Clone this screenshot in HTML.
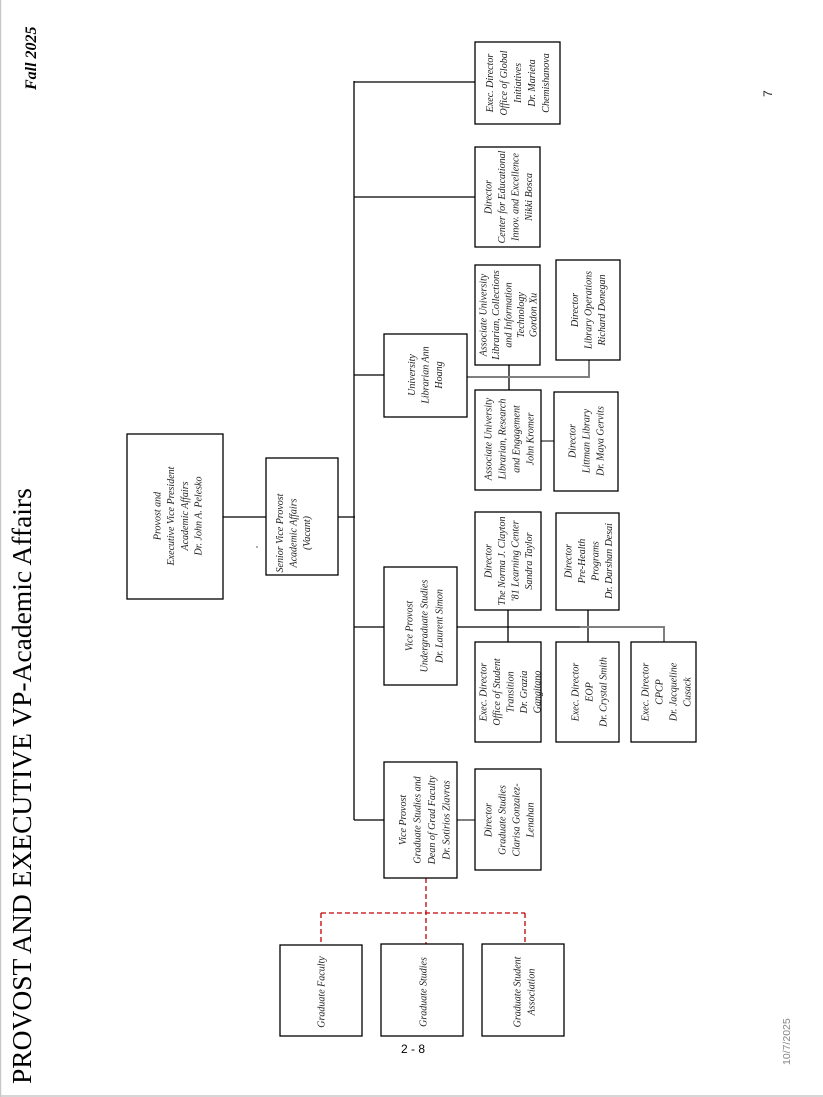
<!DOCTYPE html>
<html>
<head>
<meta charset="utf-8">
<style>
html,body{margin:0;padding:0;background:#fff;}
body{width:823px;height:1097px;overflow:hidden;position:relative;}
svg{position:absolute;left:0;top:0;}
.t{font-family:"Liberation Serif",serif;font-style:italic;font-size:10px;fill:#222;text-anchor:middle;}
</style>
</head>
<body>
<svg width="823" height="1097" viewBox="0 0 823 1097" xmlns="http://www.w3.org/2000/svg">
  <!-- page edges -->
  <line x1="0.5" y1="0" x2="0.5" y2="1097" stroke="#c8c8c8" stroke-width="1.5"/>
  <line x1="0" y1="1096" x2="823" y2="1096" stroke="#c8c8c8" stroke-width="1.5"/>

  <!-- header texts -->
  <text transform="translate(31,1084) rotate(-90)" font-family="Liberation Serif, serif" font-size="27.5" fill="#000">PROVOST AND EXECUTIVE VP-Academic Affairs</text>
  <text transform="translate(36,90) rotate(-90)" font-family="Liberation Serif, serif" font-size="16" font-weight="bold" font-style="italic" fill="#000">Fall 2025</text>
  <text transform="translate(772,97) rotate(-90)" font-family="Liberation Sans, sans-serif" font-size="12" fill="#222">7</text>
  <text transform="translate(790,1065) rotate(-90)" font-family="Liberation Sans, sans-serif" font-size="10.5" fill="#888">10/7/2025</text>
  <text x="413" y="1053" text-anchor="middle" font-family="Liberation Sans, sans-serif" font-size="12" fill="#000">2 - 8</text>
  <circle cx="257" cy="547" r="0.7" fill="#333"/>

  <!-- black connectors -->
  <g stroke="#000" stroke-width="1.3" fill="none">
    <line x1="223" y1="517" x2="266" y2="517"/>
    <line x1="338" y1="517" x2="355" y2="517"/>
    <line x1="354" y1="81" x2="354" y2="820"/>
    <line x1="354" y1="82" x2="475" y2="82"/>
    <line x1="354" y1="197" x2="475" y2="197"/>
    <line x1="354" y1="375" x2="384" y2="375"/>
    <line x1="354" y1="627" x2="384" y2="627"/>
    <line x1="354" y1="820" x2="384" y2="820"/>
    <line x1="509" y1="365" x2="509" y2="390"/>
    <line x1="457" y1="627" x2="580" y2="627"/>
    <line x1="508" y1="610" x2="508" y2="642"/>
    <line x1="588" y1="610" x2="588" y2="642"/>
  </g>
  <!-- gray connectors -->
  <g stroke="#7f7f7f" stroke-width="2" fill="none">
    <polyline points="467,377 589,377 589,360"/>
    <line x1="541" y1="441" x2="554" y2="441"/>
    <polyline points="580,627 664,627 664,642"/>
    <line x1="457" y1="820" x2="475" y2="820"/>
  </g>
  <!-- red dashed -->
  <g stroke="#c00000" stroke-width="1.3" fill="none" stroke-dasharray="5 3">
    <line x1="426" y1="878" x2="426" y2="945"/>
    <line x1="321" y1="913" x2="525" y2="913"/>
    <line x1="321" y1="913" x2="321" y2="945"/>
    <line x1="525" y1="913" x2="525" y2="945"/>
  </g>

  <!-- boxes -->
  <g stroke="#000" stroke-width="1.3" fill="#fff">
    <rect x="127" y="434" width="96" height="165"/>
    <rect x="266" y="458" width="72" height="117"/>
    <rect x="475" y="42" width="85" height="82"/>
    <rect x="475" y="147" width="65" height="100"/>
    <rect x="475" y="265" width="65" height="100"/>
    <rect x="556" y="260" width="64" height="100"/>
    <rect x="384" y="334" width="83" height="83"/>
    <rect x="475" y="390" width="66" height="100"/>
    <rect x="554" y="392" width="64" height="99"/>
    <rect x="475" y="512" width="66" height="98"/>
    <rect x="556" y="513" width="63" height="97"/>
    <rect x="384" y="567" width="73" height="118"/>
    <rect x="475" y="642" width="66" height="100"/>
    <rect x="556" y="642" width="63" height="100"/>
    <rect x="631" y="642" width="65" height="100"/>
    <rect x="384" y="762" width="73" height="116"/>
    <rect x="475" y="769" width="66" height="101"/>
    <rect x="280" y="945" width="82" height="91"/>
    <rect x="381" y="944" width="82" height="92"/>
    <rect x="482" y="944" width="82" height="92"/>
  </g>

  <!-- box texts (rotated) -->
  <g class="t">
    <g transform="translate(177.5,516) rotate(-90)">
      <text y="-17">Provost and</text>
      <text y="-3.3">Executive Vice President</text>
      <text y="10.4">Academic Affairs</text>
      <text y="24.1">Dr. John A. Pelesko</text>
    </g>
    <g transform="translate(293,533) rotate(-90)">
      <text y="-10">Senior Vice Provost</text>
      <text y="3.5">Academic Affairs</text>
      <text y="17">(Vacant)</text>
    </g>
    <g transform="translate(517.5,83) rotate(-90)">
      <text y="-24.5">Exec. Director</text>
      <text y="-10.5">Office of Global</text>
      <text y="3.5">Initiatives</text>
      <text y="17.5">Dr. Marieta</text>
      <text y="31.5">Chemishanova</text>
    </g>
    <g transform="translate(508,197) rotate(-90)">
      <text y="-16.75">Director</text>
      <text y="-3.25">Center for Educational</text>
      <text y="10.25">Innov. and Excellence</text>
      <text y="23.75">Nikki Bosca</text>
    </g>
    <g transform="translate(508,315) rotate(-90)">
      <text y="-21.5">Associate University</text>
      <text y="-9">Librarian, Collections</text>
      <text y="3.5">and Information</text>
      <text y="16">Technology</text>
      <text y="28.5">Gordon Xu</text>
    </g>
    <g transform="translate(588,310) rotate(-90)">
      <text y="-10">Director</text>
      <text y="3.5">Library Operations</text>
      <text y="17">Richard Donegan</text>
    </g>
    <g transform="translate(425,375) rotate(-90)">
      <text y="-10">University</text>
      <text y="3.5">Librarian Ann</text>
      <text y="17">Hoang</text>
    </g>
    <g transform="translate(509,439) rotate(-90)">
      <text y="-17.5">Associate University</text>
      <text y="-3.5">Librarian, Research</text>
      <text y="10.5">and Engagement</text>
      <text y="24.5">John Kromer</text>
    </g>
    <g transform="translate(586,441) rotate(-90)">
      <text y="-10.5">Director</text>
      <text y="3.5">Littman Library</text>
      <text y="17.5">Dr. Maya Gervits</text>
    </g>
    <g transform="translate(508,561) rotate(-90)">
      <text y="-16.75">Director</text>
      <text y="-3.25">The Norma J. Clayton</text>
      <text y="10.25">'81 Learning Center</text>
      <text y="23.75">Sandra Taylor</text>
    </g>
    <g transform="translate(588,561) rotate(-90)">
      <text y="-16.75">Director</text>
      <text y="-3.25">Pre-Health</text>
      <text y="10.25">Programs</text>
      <text y="23.75">Dr. Darshan Desai</text>
    </g>
    <g transform="translate(424,626) rotate(-90)">
      <text y="-11.5">Vice Provost</text>
      <text y="3.5">Undergraduate Studies</text>
      <text y="18.5">Dr. Laurent Simon</text>
    </g>
    <g transform="translate(510,692) rotate(-90)">
      <text y="-23.5">Exec. Director</text>
      <text y="-10">Office of Student</text>
      <text y="3.5">Transition</text>
      <text y="17">Dr. Grazia</text>
      <text y="30.5">Gangitano</text>
    </g>
    <g transform="translate(589,692) rotate(-90)">
      <text y="-10.5">Exec. Director</text>
      <text y="3.5">EOP</text>
      <text y="17.5">Dr. Crystal Smith</text>
    </g>
    <g transform="translate(666,692) rotate(-90)">
      <text y="-17.5">Exec. Director</text>
      <text y="-3.5">CPCP</text>
      <text y="10.5">Dr. Jacqueline</text>
      <text y="24.5">Cusack</text>
    </g>
    <g transform="translate(424,820) rotate(-90)">
      <text y="-18.25">Vice Provost</text>
      <text y="-3.75">Graduate Studies and</text>
      <text y="10.75">Dean of Grad Faculty</text>
      <text y="25.25">Dr. Sotirios Ziavras</text>
    </g>
    <g transform="translate(509,820) rotate(-90)">
      <text y="-17.5">Director</text>
      <text y="-3.5">Graduate Studies</text>
      <text y="10.5">Clarisa Gonzalez-</text>
      <text y="24.5">Lenahan</text>
    </g>
    <g transform="translate(321,992) rotate(-90)">
      <text y="3.5">Graduate Faculty</text>
    </g>
    <g transform="translate(423,992) rotate(-90)">
      <text y="3.5">Graduate Studies</text>
    </g>
    <g transform="translate(524,992) rotate(-90)">
      <text y="-3.5">Graduate Student</text>
      <text y="10.5">Association</text>
    </g>
  </g>
</svg>
</body>
</html>
